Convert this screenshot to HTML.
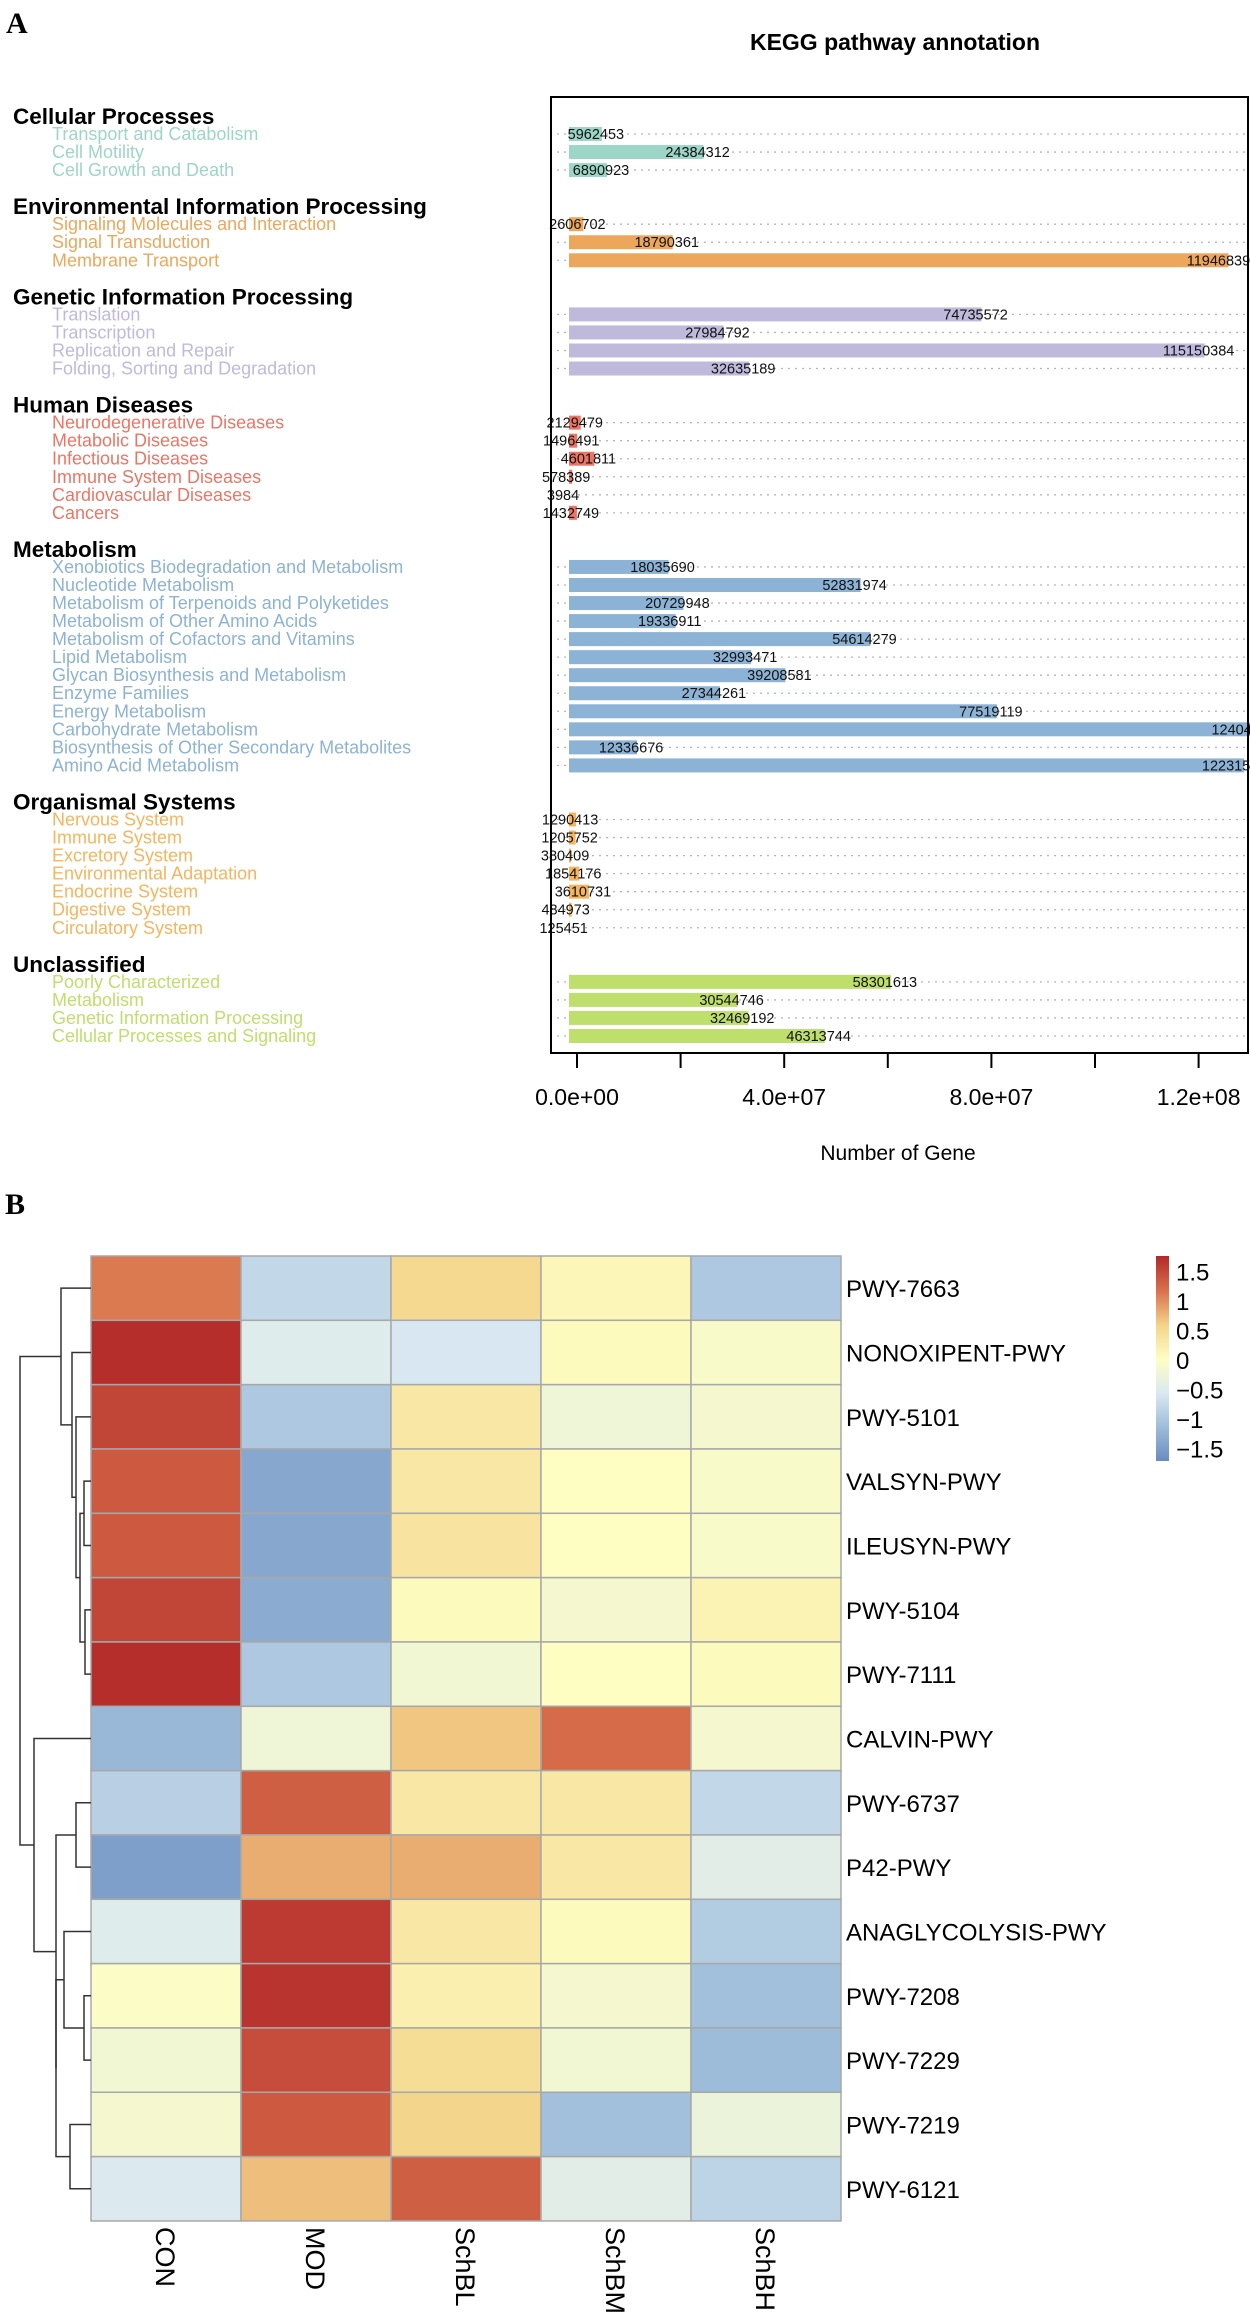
<!DOCTYPE html>
<html><head><meta charset="utf-8"><style>
html,body{margin:0;padding:0;background:#fff}
svg{display:block;font-family:"Liberation Sans",Arial,sans-serif}
</style></head><body>
<svg id="fig" width="1250" height="2316" viewBox="0 0 1250 2316" xmlns="http://www.w3.org/2000/svg">
<text x="6" y="33" font-family="Liberation Serif,serif" font-weight="bold" font-size="30">A</text>
<text x="895" y="50" text-anchor="middle" font-weight="bold" font-size="23">KEGG pathway annotation</text>
<g id="panelA"></g>
<text x="5" y="1214" font-family="Liberation Serif,serif" font-weight="bold" font-size="30">B</text>
<g id="panelB"></g>
</svg>
<script>
const NS="http://www.w3.org/2000/svg";
// ---- Panel A data ----
const groupNames=["Cellular Processes","Environmental Information Processing","Genetic Information Processing","Human Diseases","Metabolism","Organismal Systems","Unclassified"];
const groupColors=["#9dd6c6","#eda75c","#bfbadc","#ec7565","#8cb3d6","#f7b45e","#bedf6c"];
const cellularLabels=["Transport and Catabolism","Cell Motility","Cell Growth and Death"];
const cellularValues=[5962453,24384312,6890923];
const envLabels=["Signaling Molecules and Interaction","Signal Transduction","Membrane Transport"];
const envValues=[2606702,18790361,119468399];
const geneticLabels=["Translation","Transcription","Replication and Repair","Folding, Sorting and Degradation"];
const geneticValues=[74735572,27984792,115150384,32635189];
const humanLabels=["Neurodegenerative Diseases","Metabolic Diseases","Infectious Diseases","Immune System Diseases","Cardiovascular Diseases","Cancers"];
const humanValues=[2129479,1496491,4601811,578389,3984,1432749];
const metabLabels=["Xenobiotics Biodegradation and Metabolism","Nucleotide Metabolism","Metabolism of Terpenoids and Polyketides","Metabolism of Other Amino Acids","Metabolism of Cofactors and Vitamins","Lipid Metabolism","Glycan Biosynthesis and Metabolism","Enzyme Families","Energy Metabolism","Carbohydrate Metabolism","Biosynthesis of Other Secondary Metabolites","Amino Acid Metabolism"];
const metabValues=[18035690,52831974,20729948,19336911,54614279,32993471,39208581,27344261,77519119,124047140,12336676,122315712];
const orgLabels=["Nervous System","Immune System","Excretory System","Environmental Adaptation","Endocrine System","Digestive System","Circulatory System"];
const orgValues=[1290413,1205752,380409,1854176,3610731,484973,125451];
const unclLabels=["Poorly Characterized","Metabolism","Genetic Information Processing","Cellular Processes and Signaling"];
const unclValues=[58301613,30544746,32469192,46313744];
const xTicks=[0,2e7,4e7,6e7,8e7,1e8,1.2e8];
const xTickLabels=["0.0e+00","","4.0e+07","","8.0e+07","","1.2e+08"];

// ---- Panel B data ----
const hmRows=["PWY-7663","NONOXIPENT-PWY","PWY-5101","VALSYN-PWY","ILEUSYN-PWY","PWY-5104","PWY-7111","CALVIN-PWY","PWY-6737","P42-PWY","ANAGLYCOLYSIS-PWY","PWY-7208","PWY-7229","PWY-7219","PWY-6121"];
const hmCols=["CON","MOD","SchBL","SchBM","SchBH"];
const hmCON=[1.1,1.7,1.5,1.35,1.35,1.5,1.7,-1.2,-0.9,-1.5,-0.5,-0.05,-0.2,-0.15,-0.55];
const hmMOD=[-0.8,-0.5,-1.0,-1.4,-1.4,-1.35,-1.0,-0.25,1.3,0.8,1.6,1.65,1.45,1.35,0.7];
const hmSchBL=[0.5,-0.6,0.3,0.3,0.35,0.05,-0.2,0.65,0.3,0.8,0.3,0.2,0.45,0.55,1.3];
const hmSchBM=[0.1,0.05,-0.25,0.0,0.0,-0.15,0.0,1.2,0.3,0.3,0.05,-0.15,-0.2,-1.1,-0.45];
const hmSchBH=[-1.0,-0.1,-0.15,-0.1,-0.1,0.15,0.05,-0.15,-0.8,-0.45,-0.95,-1.1,-1.15,-0.3,-0.85];
const legendTicks=[1.5,1,0.5,0,-0.5,-1,-1.5];
const legendLabels=["1.5","1","0.5","0","\u22120.5","\u22121","\u22121.5"];

function mk(tag,attrs,parent){const e=document.createElementNS(NS,tag);for(const k in attrs)e.setAttribute(k,attrs[k]);parent.appendChild(e);return e;}

// ---- Panel A drawing ----
const A=document.getElementById('panelA');
const boxL=551,boxR=1248,boxT=97,boxB=1053;
const slotY=k=>134+18.04*k;
const xBar=v=>569+v*5.52e-6;
const xAxis=v=>577+v*5.18e-6;
const groups=[[cellularLabels,cellularValues],[envLabels,envValues],[geneticLabels,geneticValues],[humanLabels,humanValues],[metabLabels,metabValues],[orgLabels,orgValues],[unclLabels,unclValues]];
let k=-1;
groups.forEach((g,gi)=>{
  const h=mk('text',{x:13,y:slotY(k)+8,'font-size':22.5,'font-weight':'bold'},A);
  h.textContent=groupNames[gi];
  
  
  k++;
  g[0].forEach((lab,i)=>{
    const y=slotY(k);
    const t=mk('text',{x:52,y:y+6,'font-size':18,fill:groupColors[gi]},A);
    t.textContent=lab;
    
    
    const dl=mk('line',{x1:557,x2:boxR,y1:y,y2:y,stroke:'#b5b5b5','stroke-width':1.3,'stroke-dasharray':'2 5'},A);
    
    
    const v=g[1][i];
    const r=mk('rect',{x:569,y:y-7,width:Math.max(0,xBar(v)-569),height:14,fill:groupColors[gi]},A);
    
    
    const vt=mk('text',{x:xBar(v)-6,y:y+5,'font-size':14.5,'text-anchor':'middle',fill:'#111'},A);
    vt.textContent=String(v);
    
    
    k++;
  });
  k++;
});
const box=mk('rect',{x:boxL,y:boxT,width:boxR-boxL,height:boxB-boxT,fill:'none',stroke:'#000','stroke-width':2},A);


xTicks.forEach((v,i)=>{
  const tl=mk('line',{x1:xAxis(v),x2:xAxis(v),y1:boxB,y2:boxB+15,stroke:'#000','stroke-width':2},A);
  
  
  if(xTickLabels[i]){
    const tt=mk('text',{x:xAxis(v),y:1105,'font-size':23,'text-anchor':'middle'},A);
    tt.textContent=xTickLabels[i];
    
    
  }
});
const xt=mk('text',{x:898,y:1160,'font-size':21,'text-anchor':'middle'},A);
xt.textContent="Number of Gene";



// ---- Panel B drawing ----
const B=document.getElementById('panelB');
const hmL=91,hmT=1256,cw=150,ch=64.33;
const stops=[[-1.72,[106,140,190]],[-1.15,[157,188,218]],[-0.57,[219,233,242]],[0,[254,254,194]],[0.57,[244,212,138]],[1.15,[217,113,76]],[1.74,[179,41,42]]];
function col(v){
  if(v<=stops[0][0])return 'rgb('+stops[0][1]+')';
  for(let i=0;i<stops.length-1;i++){const a=stops[i],b=stops[i+1];if(v<=b[0]){const t=(v-a[0])/(b[0]-a[0]);const c=a[1].map((x,j)=>Math.round(x+(b[1][j]-x)*t));return 'rgb('+c+')';}}
  return 'rgb('+stops[stops.length-1][1]+')';
}
const colX=j=>hmL+j*cw;
const rowY=i=>hmT+i*ch;
const series=[hmCON,hmMOD,hmSchBL,hmSchBM,hmSchBH];
series.forEach((arr,j)=>{
  arr.forEach((v,i)=>{
    const r=mk('rect',{x:colX(j),y:rowY(i),width:cw,height:ch,fill:col(v),stroke:'#a8a8a8','stroke-width':1.5},B);
    
    
  });
});
hmRows.forEach((n,i)=>{
  const t=mk('text',{x:846,y:rowY(i)+ch/2+9,'font-size':24},B);
  t.textContent=n;
  
  
});
hmCols.forEach((n,j)=>{
  const cx=colX(j)+cw/2-10, y0=2227;
  const t=mk('text',{x:cx,y:y0,'font-size':27,transform:`rotate(90 ${cx} ${y0})`},B);
  t.textContent=n;
  
  
});
// dendrogram (row clustering)
const rc=i=>rowY(i)+ch/2;
function join(a,b,x){
  const p=`M${a.x},${a.y} H${x} V${b.y} H${b.x}`;
  const d=mk('path',{d:p,fill:'none',stroke:'#333','stroke-width':1.5},B);
  
  
  return {x:x,y:(a.y+b.y)/2};
}
const leaf=i=>({x:hmL,y:rc(i)});
const n34=join(leaf(3),leaf(4),84);
const n56=join(leaf(5),leaf(6),85);
const n3456=join(n34,n56,80);
const n2=join(leaf(2),n3456,76);
const n1=join(leaf(1),n2,72);
const n0=join(leaf(0),n1,61);
const n89=join(leaf(8),leaf(9),76);
const n1112=join(leaf(11),leaf(12),84);
const n10=join(leaf(10),n1112,64);
const n1314=join(leaf(13),leaf(14),70);
const n1014=join(n10,n1314,56);
const n814=join(n89,n1014,56);
const n7=join(leaf(7),n814,34);
join(n0,n7,20);
// legend
const defs=mk('defs',{},B);
const lg=mk('linearGradient',{id:'lg',x1:0,y1:1,x2:0,y2:0},defs);
stops.forEach(s=>{mk('stop',{offset:((s[0]+1.72)/3.46).toFixed(3),'stop-color':'rgb('+s[1]+')'},lg);});
const lb=mk('rect',{x:1156,y:1256,width:13,height:205,fill:'url(#lg)'},B);


const legY=v=>1360-v*59;
legendTicks.forEach((v,i)=>{
  const t=mk('text',{x:1176,y:legY(v)+9,'font-size':24},B);
  t.textContent=legendLabels[i];
  
  
});
</script>
</body></html>
